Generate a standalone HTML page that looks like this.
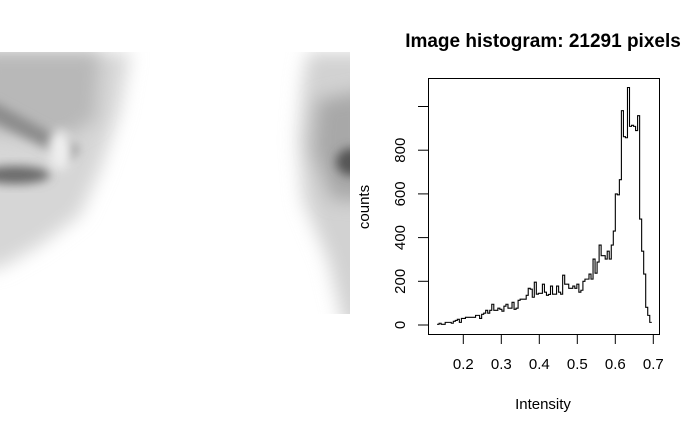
<!DOCTYPE html>
<html><head><meta charset="utf-8"><style>
html,body{margin:0;padding:0;background:#fff;}
svg{display:block;font-family:"Liberation Sans",Arial,sans-serif;}
</style></head><body>
<svg id="chart" width="700" height="432" viewBox="0 0 700 432">
  <defs>
    <filter id="bl" x="-50%" y="-50%" width="200%" height="200%"><feGaussianBlur stdDeviation="9"/></filter>
    <filter id="bl2" x="-50%" y="-50%" width="200%" height="200%"><feGaussianBlur stdDeviation="5"/></filter>
    <clipPath id="imgclip"><rect x="0" y="52" width="350" height="262"/></clipPath>
  </defs>
  <g clip-path="url(#imgclip)">
    <g>
      <path d="M-20,52 L130,52 L120,110 L100,170 L80,215 L40,245 L0,268 L-20,270 Z" fill="#d6d6d6" filter="url(#bl)"/>
      <path d="M-20,52 L100,52 L95,120 L60,140 L-20,130 Z" fill="#b8b8b8" filter="url(#bl)"/>
      <path d="M-10,100 L80,148 L70,160 L-10,120 Z" fill="#8c8c8c" filter="url(#bl2)"/>
      <ellipse cx="15" cy="175" rx="35" ry="9" fill="#6a6a6a" filter="url(#bl2)"/>
      <ellipse cx="60" cy="150" rx="12" ry="20" fill="#eee" filter="url(#bl2)"/>
    </g>
    <g>
      <path d="M308,52 L370,52 L370,330 L345,330 L328,260 L303,200 L298,140 L303,80 Z" fill="#d2d2d2" filter="url(#bl)"/>
      <path d="M318,100 L370,90 L370,200 L332,200 L313,150 Z" fill="#a8a8a8" filter="url(#bl)"/>
      <ellipse cx="352" cy="162" rx="16" ry="14" fill="#555" filter="url(#bl2)"/>
    </g>
  </g>
  <text x="543" y="47" text-anchor="middle" font-size="19" font-weight="bold" fill="#000">Image histogram: 21291 pixels</text>
  <rect x="428.5" y="78.5" width="231" height="256" fill="none" stroke="#000" stroke-width="1"/>
  <g id="xaxis"></g>
  <g id="yaxis"></g>
  <path id="hist" fill="none" stroke="#000" stroke-width="1.1"/>
  <text x="543" y="409" text-anchor="middle" font-size="15" fill="#000">Intensity</text>
  <text transform="translate(369,207) rotate(-90)" text-anchor="middle" font-size="15" fill="#000">counts</text>
</svg>
<script>
const binStart = 0.131;
const binEnd = 0.696;
const counts = [3,8,3,3,12,12,12,8,17,21,26,12,30,30,35,35,35,35,35,44,44,30,49,54,67,54,67,95,67,67,77,72,63,86,95,77,77,104,72,77,113,118,118,118,136,168,164,127,196,141,145,145,187,150,136,140,178,141,141,178,150,141,228,187,187,168,168,178,168,187,150,159,200,210,210,233,210,302,237,288,366,317,317,302,338,302,366,430,600,596,665,981,862,857,1087,909,914,909,890,958,485,338,233,81,44,12];
const xTicks = [0.2,0.3,0.4,0.5,0.6,0.7];
const xTickLabels = ["0.2","0.3","0.4","0.5","0.6","0.7"];
const yTicks = [0,200,400,600,800,1000];
const yTickLabels = ["0","200","400","600","800",""];

const NS = "http://www.w3.org/2000/svg";
function xs(v){return 463.3 + (v-0.2)*380;}
function ys(c){return 325 - c*0.2185;}
function mk(tag, attrs, parent){const e=document.createElementNS(NS,tag);for(const k in attrs)e.setAttribute(k,attrs[k]);parent.appendChild(e);return e;}

const xa=document.getElementById('xaxis');
xTicks.forEach((t,i)=>{
  const l=mk('line',{x1:xs(t),x2:xs(t),y1:334.5,y2:344,stroke:'#000'},xa);
  
  
  const tx=mk('text',{x:xs(t),y:369,'text-anchor':'middle','font-size':15,fill:'#000'},xa);
  tx.textContent=xTickLabels[i];
  
  
});
const ya=document.getElementById('yaxis');
yTicks.forEach((t,i)=>{
  const l=mk('line',{x1:418,x2:428.5,y1:ys(t),y2:ys(t),stroke:'#000'},ya);
  
  
  if(yTickLabels[i]){
    const tx=mk('text',{transform:`translate(405,${ys(t)}) rotate(-90)`,'text-anchor':'middle','font-size':15,fill:'#000'},ya);
    tx.textContent=yTickLabels[i];
    
    
  }
});
const w=(binEnd-binStart)/counts.length;
let d='';
counts.forEach((c,i)=>{
  const x0=xs(binStart+i*w), x1=xs(binStart+(i+1)*w), y=ys(c);
  d += (i===0?`M${x0},${y}`:`L${x0},${y}`) + `L${x1},${y}`;
});
document.getElementById('hist').setAttribute('d',d);
</script>
</body></html>
